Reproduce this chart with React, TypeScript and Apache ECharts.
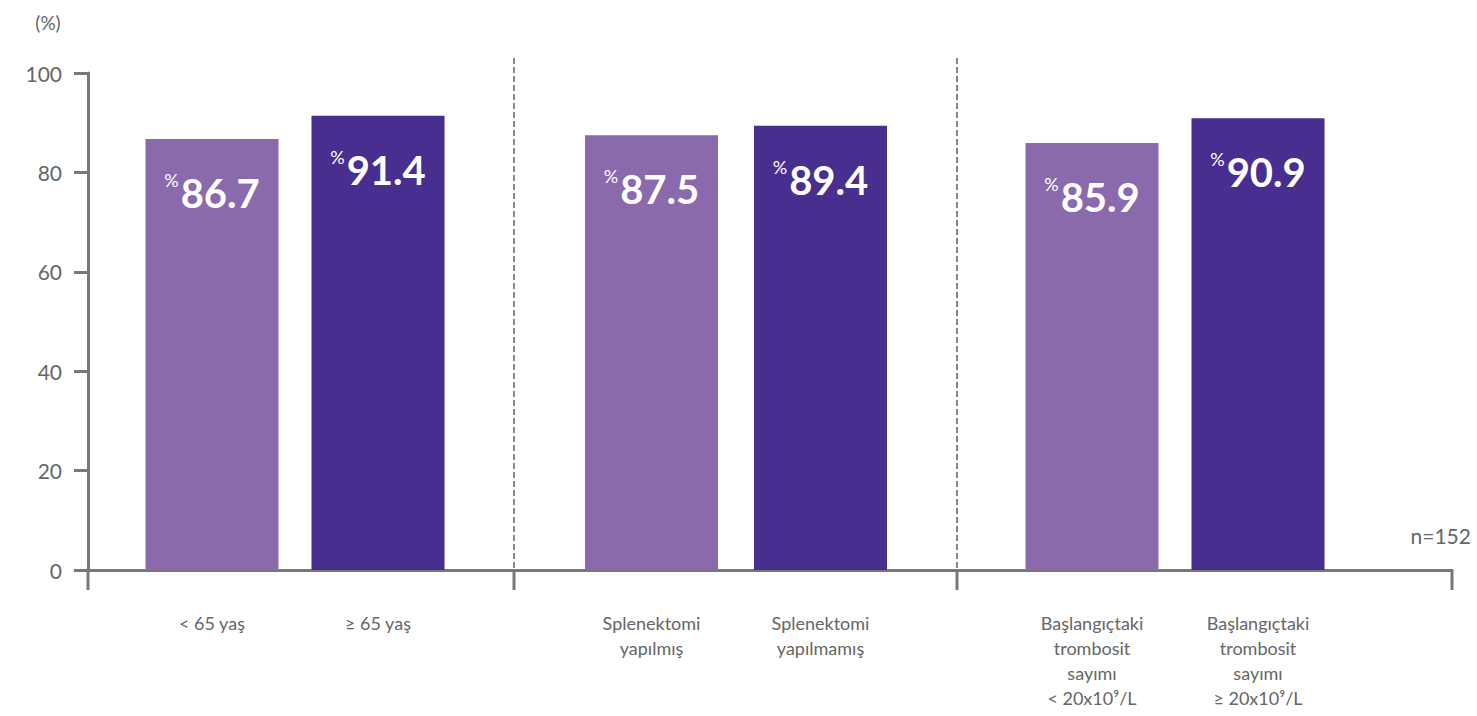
import React, { useEffect, useRef } from "react";
import * as echarts from "echarts";

const groupLabels: string[][] = [
  ["< 65 yaş", "≥ 65 yaş"],
  ["Splenektomi\nyapılmış", "Splenektomi\nyapılmamış"],
  ["Başlangıçtaki\ntrombosit\nsayımı\n< 20x10⁹/L", "Başlangıçtaki\ntrombosit\nsayımı\n≥ 20x10⁹/L"],
];
const groupValues: number[][] = [
  [86.7, 91.4],
  [87.5, 89.4],
  [85.9, 90.9],
];
const yTicks = [0, 20, 40, 60, 80, 100];
const sampleNote = "n=152";
const unitNote = "(%)";

const LIGHT = "#8a69ad";
const DARK = "#482e8f";
const AXIS = "#777777";
const TEXT = "#666666";
const FONT = "Lato, 'Open Sans', sans-serif";

const PLOT_LEFT = 88;
const PLOT_RIGHT_X = 1452;
const PLOT_TOP = 73;
const PLOT_BOTTOM_Y = 570;
const W = 1477;
const H = 716;
const groupGrids = [
  { left: 129, width: 332 },
  { left: 567, width: 338 },
  { left: 1009, width: 332 },
];

export default function App() {
  const ref = useRef<HTMLDivElement>(null);
  useEffect(() => {
    if (!ref.current) return;
    const chart = echarts.init(ref.current, null, { renderer: "svg" });
    const grids: any[] = [
      { left: PLOT_LEFT, right: W - PLOT_RIGHT_X, top: PLOT_TOP, bottom: H - PLOT_BOTTOM_Y },
    ];
    const xAxes: any[] = [
      {
        type: "value",
        gridIndex: 0,
        min: 0,
        max: 1,
        axisLine: { show: true, lineStyle: { color: AXIS, width: 3 } },
        axisTick: { show: false },
        axisLabel: { show: false },
        splitLine: { show: false },
      },
    ];
    const yAxes: any[] = [
      {
        type: "value",
        gridIndex: 0,
        min: 0,
        max: 100,
        interval: 20,
        axisLine: { show: true, lineStyle: { color: AXIS, width: 3 } },
        axisTick: { show: true, length: 14, lineStyle: { color: AXIS, width: 3 } },
        axisLabel: { color: TEXT, fontSize: 21, fontFamily: FONT, margin: 26 },
        splitLine: { show: false },
      },
    ];
    const series: any[] = [];
    groupGrids.forEach((g, i) => {
      const gi = i + 1;
      grids.push({ left: g.left, width: g.width, top: PLOT_TOP, bottom: H - PLOT_BOTTOM_Y });
      xAxes.push({
        type: "category",
        gridIndex: gi,
        data: groupLabels[i],
        axisLine: { show: false },
        axisTick: { show: false },
        axisLabel: {
          color: TEXT,
          fontSize: 18,
          fontFamily: FONT,
          lineHeight: 25,
          margin: 40,
          interval: 0,
          align: "center",
        },
      });
      yAxes.push({
        type: "value",
        gridIndex: gi,
        min: 0,
        max: 100,
        show: false,
      });
      series.push({
        type: "bar",
        xAxisIndex: gi,
        yAxisIndex: gi,
        barWidth: 133,
        data: groupValues[i].map((v, k) => ({
          value: v,
          itemStyle: { color: k === 0 ? LIGHT : DARK },
        })),
        label: {
          show: true,
          position: "insideTop",
          distance: 32,
          formatter: (p: any) => `{p|%}{v|${p.value}}`,
          rich: {
            p: { fontSize: 18, color: "#ffffff", fontFamily: FONT, verticalAlign: "top", padding: [0, 2, 0, 0] },
            v: { fontSize: 40, fontWeight: "bold", color: "#ffffff", fontFamily: FONT, lineHeight: 44 },
          },
        },
      });
    });

    const sepXs = [
      (groupGrids[0].left + groupGrids[0].width + groupGrids[1].left) / 2,
      (groupGrids[1].left + groupGrids[1].width + groupGrids[2].left) / 2,
    ];
    const graphics: any[] = [];
    sepXs.forEach((x) => {
      graphics.push({
        type: "line",
        shape: { x1: x, y1: 58, x2: x, y2: PLOT_BOTTOM_Y },
        style: { stroke: "#888888", lineWidth: 2, lineDash: [6, 3] },
      });
    });
    [PLOT_LEFT, ...sepXs, PLOT_RIGHT_X].forEach((x) => {
      graphics.push({
        type: "line",
        shape: { x1: x, y1: PLOT_BOTTOM_Y, x2: x, y2: 590 },
        style: { stroke: AXIS, lineWidth: 3 },
      });
    });
    graphics.push({
      type: "text",
      x: 1471,
      y: 535,
      style: { text: sampleNote, fill: TEXT, fontSize: 21, fontFamily: FONT, align: "right", verticalAlign: "middle" },
    });
    graphics.push({
      type: "text",
      x: 48,
      y: 22,
      style: { text: unitNote, fill: TEXT, fontSize: 19, fontFamily: FONT, align: "center", verticalAlign: "middle" },
    });

    chart.setOption({
      animation: false,
      backgroundColor: "#ffffff",
      grid: grids,
      xAxis: xAxes,
      yAxis: yAxes,
      series,
      graphic: graphics,
    });
    return () => chart.dispose();
  }, []);
  return (
    <div
      ref={ref}
      style={{ position: "fixed", left: 0, top: 0, width: W, height: H }}
    />
  );
}
